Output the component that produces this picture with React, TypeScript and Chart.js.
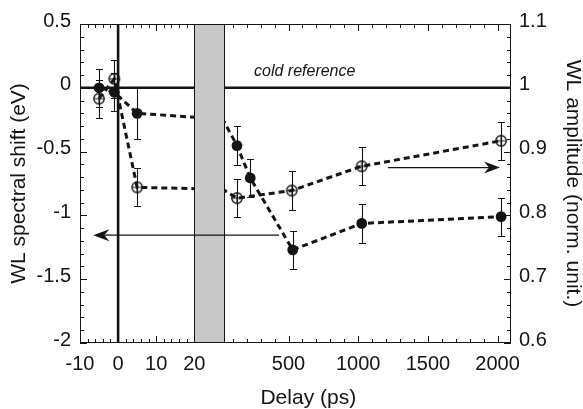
import React, { useEffect, useRef } from 'react';
import { Chart, registerables, LinearScale } from 'chart.js';

// ---------------- data ----------------
const shiftDelays = [-5, -1, 5, 130, 225, 530, 1025, 2025];
const shiftValues = [0, -0.035, -0.2, -0.453, -0.706, -1.27, -1.063, -1.01];
const shiftErrors = [0.15, 0.15, 0.2, 0.15, 0.15, 0.15, 0.15, 0.15];

const ampDelays = [-5, -1, 5, 130, 523, 1025, 2025];
const ampValues = [0.983, 1.014, 0.844, 0.827, 0.839, 0.877, 0.917];
const ampErrors = [0.03, 0.03, 0.03, 0.03, 0.03, 0.03, 0.03];

const delayTickLabels = [-10, 0, 10, 20, 500, 1000, 1500, 2000];
const earlyMinorStep = 2;
const lateMinorStep = 100;

// annotations (data units)
const shiftArrow = { from: 432, to: -6.5, value: -1.155 };
const ampArrow = { from: 1214, to: 2017, value: 0.875 };
const coldLabel = { text: 'cold reference', delay: 616, value: 0.09 };

// ---------------- broken axis layout ----------------
const EARLY = { min: -10, max: 20, from: 0, to: 0.2652 };
const LATE = { min: 39, max: 2096, from: 0.3348, to: 1 };

const INK = '#141414';
const FONT = '"Liberation Sans", Arial, Helvetica, sans-serif';

function valueToDecimal(v: number): number {
  if (v <= EARLY.max) return EARLY.from + ((v - EARLY.min) / (EARLY.max - EARLY.min)) * (EARLY.to - EARLY.from);
  if (v >= LATE.min) return LATE.from + ((v - LATE.min) / (LATE.max - LATE.min)) * (LATE.to - LATE.from);
  return EARLY.to + ((v - EARLY.max) / (LATE.min - EARLY.max)) * (LATE.from - EARLY.to);
}
function decimalToValue(d: number): number {
  if (d <= EARLY.to) return EARLY.min + ((d - EARLY.from) / (EARLY.to - EARLY.from)) * (EARLY.max - EARLY.min);
  if (d >= LATE.from) return LATE.min + ((d - LATE.from) / (LATE.to - LATE.from)) * (LATE.max - LATE.min);
  return EARLY.max + ((d - EARLY.to) / (LATE.from - EARLY.to)) * (LATE.min - EARLY.max);
}

class BrokenScale extends LinearScale {
  static id = 'broken';
  static defaults = {};
  buildTicks() {
    (this as any).start = (this as any).min;
    (this as any).end = (this as any).max;
    return delayTickLabels.map((v) => ({ value: v }));
  }
  getPixelForValue(value: any) {
    if (value === null || value === undefined || isNaN(value)) return NaN;
    return (this as any).getPixelForDecimal(valueToDecimal(+value));
  }
  getValueForPixel(pixel: number) {
    return decimalToValue((this as any).getDecimalForPixel(pixel));
  }
}

class ShiftedLinear extends LinearScale {
  static id = 'shiftedLinear';
  static defaults = {};
  _computeLabelItems(chartArea: any) {
    const items = (LinearScale.prototype as any)._computeLabelItems.call(this, chartArea);
    for (const it of items) {
      const tr = it && it.options && it.options.translation;
      if (Array.isArray(tr)) tr[1] -= 3;
    }
    return items;
  }
}

Chart.register(...registerables, BrokenScale, ShiftedLinear);

function makeOpenMarker(): HTMLCanvasElement {
  const c = document.createElement('canvas');
  c.width = 14;
  c.height = 14;
  const g = c.getContext('2d')!;
  g.strokeStyle = INK;
  g.lineWidth = 1.4;
  g.beginPath();
  g.arc(7, 7, 5.2, 0, Math.PI * 2);
  g.stroke();
  g.lineWidth = 1.1;
  g.beginPath();
  g.moveTo(2, 7);
  g.lineTo(12, 7);
  g.moveTo(7, 2);
  g.lineTo(7, 12);
  g.stroke();
  return c;
}

function drawDashed(ctx: CanvasRenderingContext2D, xs: any, ys: any, dx: number[], dy: number[]) {
  const pts: [number, number][] = [];
  for (let i = 0; i < dx.length; i++) {
    if (i > 0) {
      const x0 = dx[i - 1], x1 = dx[i], y0 = dy[i - 1], y1 = dy[i];
      if (x0 <= EARLY.max && x1 >= LATE.min) {
        const t1 = (EARLY.max - x0) / (x1 - x0);
        const t2 = (LATE.min - x0) / (x1 - x0);
        pts.push([EARLY.max, y0 + t1 * (y1 - y0)]);
        pts.push([LATE.min, y0 + t2 * (y1 - y0)]);
      }
    }
    pts.push([dx[i], dy[i]]);
  }
  ctx.save();
  ctx.strokeStyle = INK;
  ctx.lineWidth = 3;
  ctx.setLineDash([6, 4]);
  ctx.beginPath();
  pts.forEach(([a, b], i) => {
    const px = xs.getPixelForValue(a), py = ys.getPixelForValue(b);
    if (i === 0) ctx.moveTo(px, py); else ctx.lineTo(px, py);
  });
  ctx.stroke();
  ctx.restore();
}

function drawErrors(ctx: CanvasRenderingContext2D, xs: any, ys: any, dx: number[], dy: number[], de: number[]) {
  ctx.save();
  ctx.strokeStyle = INK;
  ctx.lineWidth = 1.1;
  ctx.beginPath();
  for (let i = 0; i < dx.length; i++) {
    const px = Math.round(xs.getPixelForValue(dx[i])) + 0.5;
    const top = Math.round(ys.getPixelForValue(dy[i] + de[i])) + 0.5;
    const bot = Math.round(ys.getPixelForValue(dy[i] - de[i])) + 0.5;
    ctx.moveTo(px, top); ctx.lineTo(px, bot);
    ctx.moveTo(px - 3.5, top); ctx.lineTo(px + 3.5, top);
    ctx.moveTo(px - 3.5, bot); ctx.lineTo(px + 3.5, bot);
  }
  ctx.stroke();
  ctx.restore();
}

function drawArrow(ctx: CanvasRenderingContext2D, x1: number, y1: number, x2: number, y2: number) {
  const ang = Math.atan2(y2 - y1, x2 - x1);
  ctx.save();
  ctx.strokeStyle = INK;
  ctx.fillStyle = INK;
  ctx.lineWidth = 1.2;
  ctx.beginPath();
  ctx.moveTo(x1, y1);
  ctx.lineTo(x2 - 10 * Math.cos(ang), y2 - 10 * Math.sin(ang));
  ctx.stroke();
  ctx.translate(x2, y2);
  ctx.rotate(ang);
  ctx.beginPath();
  ctx.moveTo(0, 0);
  ctx.lineTo(-16, -6);
  ctx.lineTo(-11, 0);
  ctx.lineTo(-16, 6);
  ctx.closePath();
  ctx.fill();
  ctx.restore();
}

const decorPlugin = {
  id: 'decor',
  beforeDatasetsDraw(chart: any) {
    const { ctx, chartArea: ca, scales } = chart;
    const xs = scales.x, ys = scales.y, ys2 = scales.y2;
    ctx.save();
    ctx.strokeStyle = INK;
    ctx.lineWidth = 2.6;
    const y0 = ys.getPixelForValue(0);
    ctx.beginPath(); ctx.moveTo(ca.left, y0); ctx.lineTo(ca.right, y0); ctx.stroke();
    const x0 = xs.getPixelForValue(0);
    ctx.beginPath(); ctx.moveTo(x0, ca.top); ctx.lineTo(x0, ca.bottom); ctx.stroke();
    ctx.restore();
    drawDashed(ctx, xs, ys, shiftDelays, shiftValues);
    drawDashed(ctx, xs, ys2, ampDelays, ampValues);
    drawErrors(ctx, xs, ys, shiftDelays, shiftValues, shiftErrors);
    drawErrors(ctx, xs, ys2, ampDelays, ampValues, ampErrors);
  },
  afterDatasetsDraw(chart: any) {
    const { ctx, chartArea: ca, scales } = chart;
    const xs = scales.x, ys = scales.y, ys2 = scales.y2;
    ctx.save();
    // break band
    const bl = Math.round(xs.getPixelForValue(EARLY.max)) + 0.5;
    const br = Math.round(xs.getPixelForValue(LATE.min)) + 0.5;
    ctx.fillStyle = '#c8c8c8';
    ctx.fillRect(bl, ca.top, br - bl, ca.bottom - ca.top);
    ctx.strokeStyle = INK;
    ctx.lineWidth = 1;
    ctx.beginPath();
    ctx.moveTo(bl, ca.top); ctx.lineTo(bl, ca.bottom);
    ctx.moveTo(br, ca.top); ctx.lineTo(br, ca.bottom);
    ctx.stroke();

    // arrows
    const ay = ys.getPixelForValue(shiftArrow.value);
    drawArrow(ctx, xs.getPixelForValue(shiftArrow.from), ay, xs.getPixelForValue(shiftArrow.to), ay);
    const by = ys2.getPixelForValue(ampArrow.value);
    drawArrow(ctx, xs.getPixelForValue(ampArrow.from), by, xs.getPixelForValue(ampArrow.to), by);

    // cold reference label
    ctx.fillStyle = INK;
    ctx.font = 'italic 16px ' + FONT;
    ctx.textAlign = 'center';
    ctx.textBaseline = 'alphabetic';
    ctx.fillText(coldLabel.text, xs.getPixelForValue(coldLabel.delay), ys.getPixelForValue(coldLabel.value));

    // frame
    ctx.strokeStyle = INK;
    ctx.lineWidth = 1;
    ctx.strokeRect(ca.left + 0.5, ca.top + 0.5, ca.right - ca.left - 1, ca.bottom - ca.top - 1);

    // inward ticks
    ctx.beginPath();
    const xTick = (v: number, major: boolean) => {
      const px = Math.round(xs.getPixelForValue(v)) + 0.5;
      const len = major ? 7 : 4;
      ctx.moveTo(px, ca.bottom); ctx.lineTo(px, ca.bottom - len);
      ctx.moveTo(px, ca.top); ctx.lineTo(px, ca.top + len);
    };
    for (let v = EARLY.min; v <= EARLY.max; v += earlyMinorStep) xTick(v, delayTickLabels.includes(v));
    for (let v = lateMinorStep; v <= LATE.max; v += lateMinorStep) if (v >= LATE.min) xTick(v, delayTickLabels.includes(v));
    for (let i = 0; i <= 25; i++) {
      const v = -2 + i * 0.1;
      const major = i % 5 === 0;
      const py = Math.round(ys.getPixelForValue(v)) + 0.5;
      ctx.moveTo(ca.left, py); ctx.lineTo(ca.left + (major ? 7 : 4), py);
      ctx.moveTo(ca.right, py); ctx.lineTo(ca.right - (major ? 7 : 4), py);
    }
    ctx.stroke();

    // x axis title
    ctx.font = '21px ' + FONT;
    ctx.textAlign = 'center';
    ctx.textBaseline = 'alphabetic';
    ctx.fillStyle = INK;
    ctx.fillText('Delay (ps)', ca.left + 0.5297 * (ca.right - ca.left), ca.bottom + 61);
    ctx.restore();
  },
};

const fmt = (v: any) => String(Math.round(Number(v) * 10) / 10);

export default function App() {
  const ref = useRef<HTMLCanvasElement | null>(null);
  useEffect(() => {
    document.body.style.margin = '0';
    const canvas = ref.current;
    if (!canvas) return;
    Chart.defaults.font.family = FONT;
    Chart.defaults.color = INK;
    const openMarker = makeOpenMarker();
    const chart = new Chart(canvas, {
      type: 'scatter',
      data: {
        datasets: [
          {
            label: 'WL spectral shift',
            data: shiftDelays.map((d, i) => ({ x: d, y: shiftValues[i] })),
            xAxisID: 'x',
            yAxisID: 'y',
            pointRadius: 5.4,
            pointHoverRadius: 5.4,
            pointBackgroundColor: INK,
            pointBorderWidth: 0,
            showLine: false,
          },
          {
            label: 'WL amplitude',
            data: ampDelays.map((d, i) => ({ x: d, y: ampValues[i] })),
            xAxisID: 'x',
            yAxisID: 'y2',
            pointStyle: openMarker as any,
            pointRadius: 6,
            pointHoverRadius: 6,
            showLine: false,
          },
        ],
      },
      options: {
        animation: false,
        responsive: false,
        devicePixelRatio: 1,
        events: [],
        layout: { padding: { top: 24, left: 0, right: 0, bottom: 0 } },
        plugins: { legend: { display: false }, tooltip: { enabled: false } },
        scales: {
          x: {
            type: 'broken' as any,
            position: 'bottom',
            min: EARLY.min,
            max: LATE.max,
            grid: { display: false, drawTicks: false, tickLength: 0 },
            border: { display: false },
            ticks: {
              autoSkip: false,
              maxRotation: 0,
              minRotation: 0,
              padding: 9,
              font: { size: 20 },
              color: INK,
              callback: (v: any) => String(v),
            },
            afterFit: (s: any) => { s.height = 66; },
          } as any,
          y: {
            type: 'shiftedLinear' as any,
            position: 'left',
            min: -2,
            max: 0.5,
            grid: { display: false, drawTicks: false, tickLength: 0 },
            border: { display: false },
            ticks: { stepSize: 0.5, padding: 9, font: { size: 20 }, color: INK, callback: fmt },
            title: {
              display: true,
              text: 'WL spectral shift (eV)',
              font: { size: 21, lineHeight: 1 },
              padding: { top: 9, bottom: 0 },
              color: INK,
            },
            afterFit: (s: any) => { s.width = 80; },
          } as any,
          y2: {
            type: 'shiftedLinear' as any,
            position: 'right',
            min: 0.6,
            max: 1.1,
            grid: { display: false, drawTicks: false, tickLength: 0 },
            border: { display: false },
            ticks: { stepSize: 0.1, padding: 8, font: { size: 20 }, color: INK, callback: fmt },
            title: {
              display: true,
              text: 'WL amplitude (norm. unit.)',
              font: { size: 21, lineHeight: 1 },
              padding: { top: 0, bottom: 0 },
              color: INK,
            },
            afterFit: (s: any) => { s.width = 72; },
          } as any,
        },
      },
      plugins: [decorPlugin],
    });
    return () => chart.destroy();
  }, []);
  return (
    <div style={{ width: 583, height: 409 }}>
      <canvas ref={ref} width={583} height={409} style={{ display: 'block', width: 583, height: 409 }} />
    </div>
  );
}
